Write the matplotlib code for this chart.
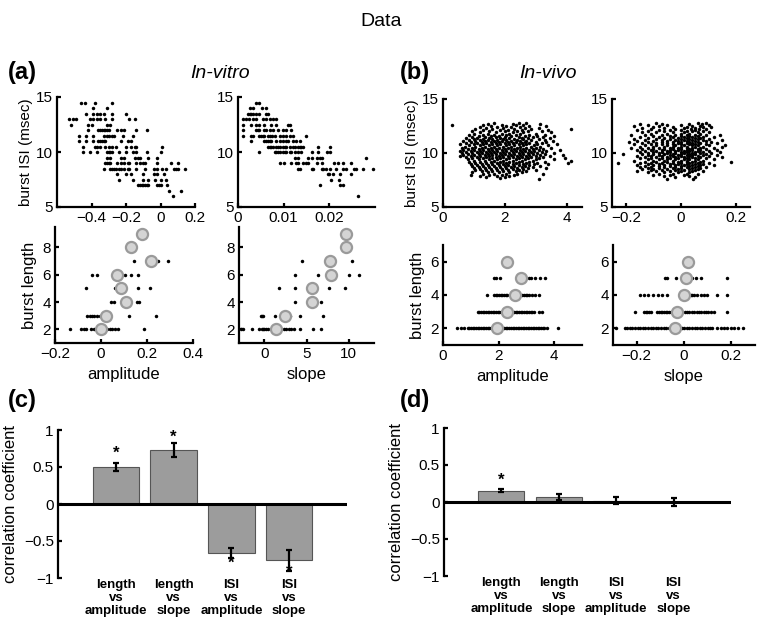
import matplotlib
matplotlib.use('Agg')
import matplotlib.pyplot as plt
import matplotlib.transforms as mtransforms

plt.rcParams['font.family'] = ['Liberation Sans', 'DejaVu Sans']

# ---- (a) in-vitro: burst ISI vs amplitude, rows of (isi, [amplitudes])
isi_amp_vitro = [
    (14.5, [-0.46, -0.44, -0.38, -0.28]),
    (14.0, [-0.39, -0.31]),
    (13.5, [-0.43, -0.39, -0.37, -0.35, -0.33, -0.28, -0.20]),
    (13.0, [-0.53, -0.51, -0.49, -0.41, -0.39, -0.37, -0.35, -0.32, -0.28, -0.18, -0.15]),
    (12.5, [-0.52, -0.42, -0.40, -0.31, -0.29]),
    (12.0, [-0.42, -0.36, -0.35, -0.34, -0.33, -0.32, -0.31, -0.30, -0.25, -0.23, -0.21, -0.14, -0.08]),
    (11.5, [-0.47, -0.43, -0.39, -0.33, -0.31, -0.30, -0.28, -0.27, -0.22, -0.16]),
    (11.0, [-0.47, -0.43, -0.39, -0.36, -0.35, -0.34, -0.33, -0.32, -0.23, -0.19, -0.17]),
    (10.5, [-0.45, -0.38, -0.37, -0.35, -0.32, -0.30, -0.28, -0.26, -0.20, -0.17, -0.15, -0.14, 0.01]),
    (10.0, [-0.45, -0.41, -0.37, -0.31, -0.30, -0.29, -0.28, -0.24, -0.20, -0.16, -0.14, -0.08, 0.00]),
    (9.5, [-0.31, -0.29, -0.23, -0.21, -0.15, -0.13, -0.12, -0.07, -0.02]),
    (9.0, [-0.32, -0.31, -0.30, -0.29, -0.25, -0.23, -0.21, -0.19, -0.18, -0.14, -0.12, -0.10, -0.09, -0.02, 0.06, 0.10]),
    (8.5, [-0.33, -0.29, -0.28, -0.27, -0.26, -0.24, -0.23, -0.21, -0.19, -0.18, -0.14, -0.09, -0.04, -0.02,
           0.01, 0.03, 0.08, 0.09, 0.10, 0.14]),
    (8.0, [-0.25, -0.20, -0.17, -0.10, -0.04, -0.02, 0.02]),
    (7.5, [-0.24, -0.16, -0.10, -0.07, -0.03, 0.00, 0.03]),
    (7.0, [-0.13, -0.12, -0.11, -0.10, -0.09, -0.08, -0.07, -0.02, -0.01, 0.00, 0.04]),
    (6.5, [0.05, 0.12]),
    (6.0, [0.07]),
]

# (a) in-vitro: burst ISI vs slope
isi_slope_vitro = [
    (14.5, [0.0039, 0.0046]),
    (14.0, [0.0026, 0.0033, 0.0053, 0.0062]),
    (13.5, [0.0022, 0.0026, 0.0029, 0.0033, 0.0040, 0.0046, 0.0062, 0.0066]),
    (13.0, [0.0012, 0.0018, 0.0024, 0.0033, 0.0039, 0.0055, 0.0062, 0.0069, 0.0077, 0.0084]),
    (12.5, [0.0012, 0.0029, 0.0039, 0.0046, 0.0058, 0.0073, 0.0084, 0.0110, 0.0113]),
    (12.0, [0.0012, 0.0040, 0.0044, 0.0047, 0.0058, 0.0062, 0.0069, 0.0077, 0.0088, 0.0099, 0.0106, 0.0115]),
    (11.5, [0.0012, 0.0028, 0.0033, 0.0046, 0.0051, 0.0055, 0.0058, 0.0066, 0.0069, 0.0075, 0.0080,
            0.0091, 0.0099, 0.0106, 0.0113, 0.0120, 0.0148]),
    (11.0, [0.0028, 0.0056, 0.0061, 0.0066, 0.0069, 0.0073, 0.0084, 0.0091, 0.0099, 0.0106, 0.0110,
            0.0120, 0.0128, 0.0135]),
    (10.5, [0.0066, 0.0069, 0.0073, 0.0077, 0.0084, 0.0088, 0.0091, 0.0099, 0.0102, 0.0106, 0.0113,
            0.0120, 0.0124, 0.0131, 0.0135, 0.0139, 0.0142, 0.0175, 0.0201]),
    (10.0, [0.0046, 0.0080, 0.0084, 0.0088, 0.0091, 0.0099, 0.0102, 0.0106, 0.0113, 0.0117, 0.0124,
            0.0131, 0.0139, 0.0161, 0.0175, 0.0195, 0.0202]),
    (9.5, [0.0124, 0.0131, 0.0153, 0.0161, 0.0172, 0.0179, 0.0183, 0.0281]),
    (9.0, [0.0093, 0.0101, 0.0115, 0.0128, 0.0131, 0.0142, 0.0148, 0.0153, 0.0172, 0.0183, 0.0210,
           0.0219, 0.0229, 0.0247]),
    (8.5, [0.0131, 0.0135, 0.0161, 0.0164, 0.0183, 0.0186, 0.0193, 0.0201, 0.0214, 0.0230, 0.0237,
           0.0253, 0.0258, 0.0274, 0.0296]),
    (8.0, [0.0196, 0.0199, 0.0207, 0.0223, 0.0247]),
    (7.5, [0.0204, 0.0221]),
    (7.0, [0.0180, 0.0223, 0.0229]),
    (6.0, [0.0263]),
]

# (a) in-vitro: burst length vs amplitude / slope (dots) and means (circles)
len_amp_vitro = [
    (2, [-0.136, -0.087, -0.075, -0.064, -0.043, -0.032, -0.020, 0.026, 0.038, 0.048, 0.062, 0.072, 0.188]),
    (3, [-0.061, -0.049, -0.039, -0.032, -0.017, -0.006, 0.120, 0.241]),
    (4, [0.043, 0.055, 0.157, 0.164]),
    (5, [-0.064, 0.062, 0.159, 0.212]),
    (6, [-0.039, -0.017, 0.106, 0.130, 0.159]),
    (7, [0.145, 0.246, 0.290]),
]
len_levels_vitro = [2, 3, 4, 5, 6, 7, 8, 9]
amp_means_vitro = [0.0, 0.023, 0.107, 0.088, 0.070, 0.217, 0.13, 0.178]

len_slope_vitro = [
    (2, [-2.71, -2.52, -1.47, -0.58, -0.31, -0.19, 0.0, 0.19, 0.39, 2.33, 2.60, 2.91, 3.22, 3.57,
         4.19, 5.74, 6.71]),
    (3, [-0.39, -0.31, -0.19, 1.24, 3.10, 4.19, 6.90]),
    (4, [3.68, 6.71]),
    (5, [1.74, 3.68, 7.67, 9.61]),
    (6, [3.68, 6.32, 10.08, 11.24]),
    (7, [4.46, 10.39]),
]
slope_means_vitro = [1.43, 2.40, 5.66, 5.70, 7.87, 7.75, 9.69, 9.73]

# ---- (b) in-vivo: burst ISI vs amplitude
isi_amp_vivo = [
    (12.8, [1.65, 2.45, 2.7]),
    (12.7, [1.45, 2.25, 3.15]),
    (12.6, [0.28, 1.3, 1.9, 2.35, 2.6]),
    (12.5, [1.55, 2.05, 2.8, 3.35]),
    (12.4, [1.2, 1.75, 2.2, 2.5]),
    (12.3, [1.4, 1.95, 2.65, 3.1]),
    (12.2, [1.05, 1.6, 2.3, 2.85, 4.15]),
    (12.1, [1.3, 1.85, 2.1, 2.55, 3.4]),
    (12.0, [0.95, 1.5, 2.0, 2.4, 2.75, 3.2]),
    (11.9, [1.2, 1.7, 2.25, 2.6, 3.5]),
    (11.8, [1.0, 1.45, 1.9, 2.15, 2.5, 3.0]),
    (11.7, [0.85, 1.3, 1.65, 2.05, 2.35, 2.8, 3.3]),
    (11.6, [1.15, 1.55, 1.8, 2.2, 2.65, 3.05, 3.6]),
    (11.5, [0.95, 1.35, 1.7, 2.0, 2.45, 2.9, 3.25]),
    (11.4, [0.75, 1.1, 1.5, 1.85, 2.15, 2.55, 2.75, 3.45]),
    (11.3, [1.0, 1.3, 1.6, 1.95, 2.3, 2.6, 3.1]),
    (11.2, [0.85, 1.2, 1.45, 1.75, 2.05, 2.4, 2.85, 3.3]),
    (11.1, [0.65, 1.05, 1.35, 1.65, 1.9, 2.2, 2.5, 2.7, 3.55]),
    (11.0, [0.9, 1.25, 1.55, 1.8, 2.1, 2.35, 2.65, 3.0, 3.35]),
    (10.9, [0.75, 1.1, 1.4, 1.7, 2.0, 2.25, 2.55, 2.8, 3.2]),
    (10.8, [0.55, 1.0, 1.3, 1.6, 1.85, 2.15, 2.45, 2.7, 3.05, 3.7]),
    (10.7, [0.85, 1.2, 1.5, 1.75, 2.05, 2.3, 2.6, 2.95, 3.4]),
    (10.6, [0.7, 1.05, 1.35, 1.65, 1.95, 2.2, 2.5, 2.85, 3.15]),
    (10.5, [0.6, 0.95, 1.25, 1.55, 1.8, 2.1, 2.4, 2.7, 3.0, 3.5]),
    (10.4, [0.8, 1.15, 1.45, 1.7, 2.0, 2.3, 2.6, 2.9, 3.25]),
    (10.3, [0.65, 1.0, 1.3, 1.6, 1.9, 2.2, 2.5, 2.8, 3.1, 3.8]),
    (10.2, [0.55, 0.9, 1.2, 1.5, 1.75, 2.05, 2.35, 2.65, 2.95, 3.35]),
    (10.1, [0.75, 1.1, 1.4, 1.65, 1.95, 2.25, 2.55, 2.85, 3.2]),
    (10.0, [0.6, 0.95, 1.25, 1.55, 1.85, 2.15, 2.45, 2.75, 3.05, 3.6]),
    (9.9, [0.8, 1.15, 1.45, 1.7, 2.0, 2.3, 2.6, 2.9, 3.3]),
    (9.8, [0.65, 1.0, 1.35, 1.6, 1.9, 2.2, 2.5, 2.8, 3.15, 3.9]),
    (9.7, [0.55, 0.9, 1.2, 1.5, 1.8, 2.1, 2.4, 2.7, 3.0, 3.45]),
    (9.6, [0.75, 1.1, 1.4, 1.7, 1.95, 2.25, 2.55, 2.85, 3.25]),
    (9.5, [0.95, 1.3, 1.6, 1.85, 2.15, 2.45, 2.75, 3.1, 3.95]),
    (9.4, [0.8, 1.15, 1.5, 1.75, 2.05, 2.35, 2.65, 3.0, 3.6]),
    (9.3, [1.0, 1.35, 1.65, 1.95, 2.25, 2.55, 2.9, 4.15]),
    (9.2, [0.85, 1.2, 1.55, 1.85, 2.15, 2.45, 2.8, 3.3]),
    (9.1, [1.05, 1.4, 1.75, 2.05, 2.35, 2.7, 3.05, 4.05]),
    (9.0, [0.9, 1.25, 1.6, 1.95, 2.25, 2.6, 2.95, 3.4]),
    (8.9, [1.1, 1.45, 1.8, 2.1, 2.45, 2.8]),
    (8.8, [0.95, 1.3, 1.65, 2.0, 2.3, 2.65, 3.15]),
    (8.7, [1.15, 1.5, 1.85, 2.2, 2.55, 2.9]),
    (8.6, [1.0, 1.35, 1.7, 2.05, 2.4, 2.75, 3.35]),
    (8.5, [1.2, 1.55, 1.9, 2.25, 2.6]),
    (8.4, [1.05, 1.4, 1.75, 2.1, 2.45, 3.0]),
    (8.3, [1.25, 1.6, 1.95, 2.35, 2.7]),
    (8.2, [0.95, 1.45, 1.8, 2.15, 2.55]),
    (8.1, [1.3, 1.65, 2.05, 2.4, 3.25]),
    (8.0, [0.9, 1.5, 1.9, 2.3]),
    (7.9, [1.2, 1.75, 2.15]),
    (7.8, [1.4, 2.0]),
    (7.7, [1.85]),
    (7.6, [3.1]),
]

# (b) in-vivo: burst ISI vs slope
isi_slope_vivo = [
    (12.8, [-0.09, 0.06, 0.09]),
    (12.7, [-0.15, -0.07, 0.03, 0.075]),
    (12.6, [-0.12, -0.05, 0.0, 0.1]),
    (12.5, [-0.17, -0.08, 0.04, 0.07]),
    (12.4, [-0.1, -0.03, 0.02, 0.08, 0.11]),
    (12.3, [-0.14, -0.06, 0.01, 0.05]),
    (12.2, [-0.11, -0.02, 0.035, 0.065, 0.09]),
    (12.1, [-0.16, -0.08, -0.04, 0.0, 0.05]),
    (12.0, [-0.12, -0.06, 0.02, 0.04, 0.08]),
    (11.9, [-0.14, -0.09, -0.03, 0.01, 0.06, 0.1]),
    (11.8, [-0.11, -0.05, 0.0, 0.03, 0.07]),
    (11.7, [-0.18, -0.13, -0.07, -0.02, 0.02, 0.05, 0.09, 0.14]),
    (11.6, [-0.1, -0.04, 0.0, 0.03, 0.06]),
    (11.5, [-0.15, -0.08, -0.03, 0.01, 0.04, 0.08, 0.12]),
    (11.4, [-0.12, -0.06, -0.01, 0.02, 0.05, 0.07]),
    (11.3, [-0.17, -0.09, -0.04, 0.0, 0.03, 0.06, 0.1]),
    (11.2, [-0.13, -0.07, -0.02, 0.01, 0.04, 0.08, 0.15]),
    (11.1, [-0.16, -0.1, -0.05, -0.01, 0.02, 0.05, 0.09]),
    (11.0, [-0.19, -0.12, -0.07, -0.03, 0.0, 0.03, 0.06, 0.11]),
    (10.9, [-0.14, -0.09, -0.05, -0.01, 0.02, 0.04, 0.07, 0.13]),
    (10.8, [-0.17, -0.11, -0.07, -0.03, 0.0, 0.03, 0.05, 0.09]),
    (10.7, [-0.13, -0.09, -0.05, -0.02, 0.01, 0.04, 0.06, 0.1, 0.16]),
    (10.6, [-0.15, -0.1, -0.06, -0.03, 0.0, 0.02, 0.05, 0.08, 0.15]),
    (10.5, [-0.18, -0.12, -0.08, -0.04, -0.01, 0.02, 0.04, 0.07, 0.12]),
    (10.4, [-0.14, -0.1, -0.06, -0.03, 0.0, 0.03, 0.06, 0.09]),
    (10.3, [-0.16, -0.11, -0.07, -0.04, -0.01, 0.02, 0.04, 0.07, 0.13]),
    (10.2, [-0.13, -0.09, -0.05, -0.02, 0.01, 0.03, 0.06, 0.1]),
    (10.1, [-0.15, -0.1, -0.07, -0.04, 0.0, 0.02, 0.05, 0.08, 0.14]),
    (10.0, [-0.12, -0.08, -0.05, -0.02, 0.01, 0.04, 0.07, 0.11]),
    (9.9, [-0.21, -0.14, -0.1, -0.06, -0.03, 0.0, 0.03, 0.05, 0.09]),
    (9.8, [-0.12, -0.08, -0.04, -0.01, 0.02, 0.04, 0.08, 0.13]),
    (9.7, [-0.16, -0.11, -0.07, -0.03, 0.0, 0.03, 0.06, 0.1]),
    (9.6, [-0.13, -0.09, -0.05, -0.02, 0.01, 0.04, 0.07, 0.15]),
    (9.5, [-0.15, -0.11, -0.07, -0.04, -0.01, 0.02, 0.05, 0.09]),
    (9.4, [-0.12, -0.08, -0.05, -0.02, 0.01, 0.03, 0.06, 0.12]),
    (9.3, [-0.17, -0.1, -0.06, -0.03, 0.0, 0.02, 0.05, 0.08]),
    (9.2, [-0.13, -0.09, -0.05, -0.01, 0.02, 0.04, 0.07, 0.18]),
    (9.1, [-0.23, -0.15, -0.11, -0.07, -0.03, 0.0, 0.03, 0.06, 0.1]),
    (9.0, [-0.12, -0.08, -0.04, -0.01, 0.02, 0.05, 0.08]),
    (8.9, [-0.16, -0.1, -0.06, -0.02, 0.01, 0.04, 0.07, 0.12]),
    (8.8, [-0.13, -0.08, -0.04, 0.0, 0.03, 0.06]),
    (8.7, [-0.15, -0.11, -0.06, -0.02, 0.02, 0.05, 0.09]),
    (8.6, [-0.12, -0.08, -0.03, 0.0, 0.04, 0.07]),
    (8.5, [-0.14, -0.1, -0.05, -0.01, 0.03, 0.06]),
    (8.4, [-0.11, -0.07, -0.02, 0.01, 0.05]),
    (8.3, [-0.16, -0.09, -0.04, 0.0, 0.04, 0.08]),
    (8.2, [-0.12, -0.06, -0.01, 0.03]),
    (8.1, [-0.08, -0.03, 0.02, 0.06]),
    (8.0, [-0.1, -0.04, 0.01]),
    (7.9, [-0.06, 0.03]),
    (7.8, [-0.02, 0.05]),
    (7.6, [-0.05, 0.045]),
]

# (b) in-vivo: burst length vs amplitude / slope
len_amp_vivo = [
    (2, [0.51, 0.65, 0.77, 0.89, 0.95, 1.01, 1.07, 1.13, 1.19, 1.25, 1.31, 1.37, 1.43, 1.49, 1.55, 1.61,
         1.67, 1.73, 1.78, 2.08, 2.14, 2.20, 2.26, 2.32, 2.38, 2.44, 2.50, 2.56, 2.62, 2.68, 2.74, 2.80,
         2.86, 2.92, 2.98, 3.04, 3.10, 3.16, 3.22, 3.28, 3.34, 3.40, 3.46, 3.52, 3.58, 3.62, 3.74, 4.12]),
    (3, [1.25, 1.31, 1.37, 1.43, 1.49, 1.55, 1.61, 1.67, 1.73, 1.79, 1.85, 1.91, 1.97, 2.03, 2.09, 2.15,
         2.20, 2.55, 2.61, 2.67, 2.73, 2.79, 2.85, 2.91, 2.97, 3.03, 3.09, 3.15, 3.21, 3.26, 3.44, 3.56]),
    (4, [1.60, 1.84, 1.90, 1.96, 2.02, 2.08, 2.14, 2.20, 2.26, 2.31, 2.49, 2.85, 2.91, 2.97, 3.03, 3.09,
         3.20, 3.32, 3.44]),
    (5, [1.82, 1.90, 2.05, 3.09, 3.17, 3.32, 3.50, 3.68]),
]
len_levels_vivo = [2, 3, 4, 5, 6]
amp_means_vivo = [1.96, 2.29, 2.58, 2.79, 2.29]

len_slope_vivo = [
    (2, [-0.289, -0.251, -0.240, -0.229, -0.218, -0.207, -0.196, -0.185, -0.174, -0.163, -0.152, -0.141,
         -0.130, -0.119, -0.108, -0.097, -0.086, -0.075, -0.064, -0.056, -0.021, -0.010, 0.001, 0.012,
         0.023, 0.034, 0.045, 0.056, 0.067, 0.078, 0.089, 0.100, 0.110, 0.120, 0.141, 0.155, 0.169,
         0.183, 0.197, 0.21, 0.23, 0.25]),
    (3, [-0.208, -0.169, -0.162, -0.155, -0.148, -0.138, -0.113, -0.106, -0.099, -0.092, -0.085, -0.077,
         -0.070, -0.063, -0.056, -0.007, 0.003, 0.013, 0.023, 0.033, 0.043, 0.053, 0.063, 0.073, 0.083,
         0.093, 0.103, 0.113, 0.127, 0.180]),
    (4, [-0.187, -0.169, -0.152, -0.131, -0.110, -0.092, -0.073, 0.028, 0.035, 0.042, 0.056, 0.070,
         0.085, 0.099, 0.141, 0.183]),
    (5, [-0.082, -0.070, -0.035, 0.035, 0.049, 0.070, 0.180]),
]
slope_means_vivo = [-0.039, -0.028, 0.0, 0.008, 0.018]

# ---- (c), (d) correlation coefficients
bar_labels = ['length\nvs\namplitude', 'length\nvs\nslope', 'ISI\nvs\namplitude', 'ISI\nvs\nslope']
bar_pos = [1, 2, 3, 4]
r_vitro = [0.50, 0.73, -0.66, -0.76]
err_vitro = [0.06, 0.09, 0.07, 0.14]
star_vitro = [0.69, 0.90, -0.80, -0.92]
r_vivo = [0.15, 0.07, 0.02, 0.0]
err_vivo = [0.02, 0.04, 0.05, 0.05]
star_vivo = [0.30, None, None, None]


def flat(rows):
    xs = [x for y, row in rows for x in row]
    ys = [y for y, row in rows for x in row]
    return xs, ys


W, H = 762, 628
fig = plt.figure(figsize=(W / 100, H / 100), dpi=100)


def px_axes(l, t, r, b):
    return fig.add_axes([l / W, 1 - b / H, (r - l) / W, (b - t) / H])


def style(ax, bottom=True):
    for s in ['top', 'right']:
        ax.spines[s].set_visible(False)
    ax.spines['left'].set_linewidth(1.6)
    ax.spines['bottom'].set_linewidth(1.6)
    if not bottom:
        ax.spines['bottom'].set_visible(False)
    ax.tick_params(direction='in', length=3, width=1.6, labelsize=11, pad=3)


def scatter_panel(ax, rows):
    xs, ys = flat(rows)
    ax.plot(xs, ys, 'o', color='k', ms=2.5, mew=0, clip_on=False)


def mean_circles(ax, means, levels):
    ax.plot(means, levels, 'o', ms=8, mfc='#d4d4d4', mec='#9a9a9a', mew=1.6, clip_on=False, zorder=3)


# top row
ax = px_axes(57, 97, 195, 207)
style(ax)
scatter_panel(ax, isi_amp_vitro)
ax.set_xlim(-0.6, 0.2)
ax.set_ylim(5, 15)
ax.set_xticks([-0.4, -0.2, 0, 0.2])
ax.set_xticklabels(['\u22120.4', '\u22120.2', '0', '0.2'])
ax.set_yticks([5, 10, 15])
ax.set_ylabel('burst ISI (msec)', fontsize=11, labelpad=2)

ax = px_axes(238, 97, 375, 207)
style(ax)
scatter_panel(ax, isi_slope_vitro)
ax.set_xlim(0, 0.03)
ax.set_ylim(5, 15)
ax.set_xticks([0, 0.01, 0.02])
ax.set_xticklabels(['0', '0.01', '0.02'])
ax.set_yticks([5, 10, 15])

ax = px_axes(443, 99, 582, 207)
style(ax)
scatter_panel(ax, isi_amp_vivo)
ax.set_xlim(0, 4.5)
ax.set_ylim(5, 15)
ax.set_xticks([0, 2, 4])
ax.set_yticks([5, 10, 15])
ax.set_ylabel('burst ISI (msec)', fontsize=11, labelpad=2)

ax = px_axes(612, 99, 750, 207)
style(ax)
scatter_panel(ax, isi_slope_vivo)
ax.set_xlim(-0.25, 0.25)
ax.set_ylim(5, 15)
ax.set_xticks([-0.2, 0, 0.2])
ax.set_xticklabels(['\u22120.2', '0', '0.2'])
ax.set_yticks([5, 10, 15])

# second row
ax = px_axes(55, 227, 193, 343)
style(ax)
scatter_panel(ax, len_amp_vitro)
mean_circles(ax, amp_means_vitro, len_levels_vitro)
ax.set_xlim(-0.2, 0.4)
ax.set_ylim(1, 9.5)
ax.set_xticks([-0.2, 0, 0.2, 0.4])
ax.set_xticklabels(['\u22120.2', '0', '0.2', '0.4'])
ax.set_yticks([2, 4, 6, 8])
ax.set_ylabel('burst length', fontsize=12, labelpad=4)
ax.set_xlabel('amplitude', fontsize=12, labelpad=4)

ax = px_axes(239, 227, 374, 343)
style(ax)
scatter_panel(ax, len_slope_vitro)
mean_circles(ax, slope_means_vitro, len_levels_vitro)
ax.set_xlim(-3, 13)
ax.set_ylim(1, 9.5)
ax.set_xticks([0, 5, 10])
ax.set_yticks([2, 4, 6, 8])
ax.set_xlabel('slope', fontsize=12, labelpad=4)

ax = px_axes(443, 245, 582, 345)
style(ax)
scatter_panel(ax, len_amp_vivo)
mean_circles(ax, amp_means_vivo, len_levels_vivo)
ax.set_xlim(0, 5)
ax.set_ylim(1, 7)
ax.set_xticks([0, 2, 4])
ax.set_yticks([2, 4, 6])
ax.set_ylabel('burst length', fontsize=12, labelpad=4)
ax.set_xlabel('amplitude', fontsize=12, labelpad=4)

ax = px_axes(613, 245, 755, 345)
style(ax)
scatter_panel(ax, len_slope_vivo)
mean_circles(ax, slope_means_vivo, len_levels_vivo)
ax.set_xlim(-0.3, 0.3)
ax.set_ylim(1, 7)
ax.set_xticks([-0.2, 0, 0.2])
ax.set_xticklabels(['\u22120.2', '0', '0.2'])
ax.set_yticks([2, 4, 6])
ax.set_xlabel('slope', fontsize=12, labelpad=4)


# bar panels
def bar_panel(rect, r, err, stars):
    ax = px_axes(*rect)
    style(ax, bottom=False)
    ax.bar(bar_pos, r, width=0.8, color='#9c9c9c', edgecolor='#555555', linewidth=0.8, zorder=2)
    ax.errorbar(bar_pos, r, yerr=err, fmt='none', ecolor='k', elinewidth=1.6, capsize=2,
                capthick=1.6, zorder=3)
    ax.axhline(0, color='k', lw=2.2, zorder=4)
    for x, s in zip(bar_pos, stars):
        if s is not None:
            ax.text(x, s, '*', ha='center', va='center', fontsize=12, fontweight='bold')
    ax.set_xlim(0, 5)
    ax.set_ylim(-1, 1)
    ax.set_xticks([])
    ax.set_yticks([-1, -0.5, 0, 0.5, 1])
    ax.set_yticklabels(['\u22121', '\u22120.5', '0', '0.5', '1'])
    ax.set_ylabel('correlation coefficient', fontsize=12, labelpad=4)
    tr = mtransforms.blended_transform_factory(ax.transData, ax.transAxes)
    for x, lab in zip(bar_pos, bar_labels):
        ax.text(x, -0.01, lab, transform=tr, ha='center', va='top', fontsize=9.5,
                fontweight='bold', linespacing=1.1)
    return ax


bar_panel((58, 430, 347, 578), r_vitro, err_vitro, star_vitro)
bar_panel((444, 428, 731, 576), r_vivo, err_vivo, star_vivo)

# titles and panel letters
fig.text(381 / W, 1 - 22 / H, 'Data', ha='center', va='center', fontsize=14)
fig.text(220 / W, 1 - 73 / H, 'In-vitro', ha='center', va='center', fontsize=14, style='italic')
fig.text(548 / W, 1 - 73 / H, 'In-vivo', ha='center', va='center', fontsize=14, style='italic')
for lab, x, y in [('(a)', 8, 73), ('(b)', 400, 73), ('(c)', 8, 401), ('(d)', 400, 401)]:
    fig.text(x / W, 1 - y / H, lab, ha='left', va='center', fontsize=17, fontweight='bold')

fig.savefig('out.png', dpi=100)
